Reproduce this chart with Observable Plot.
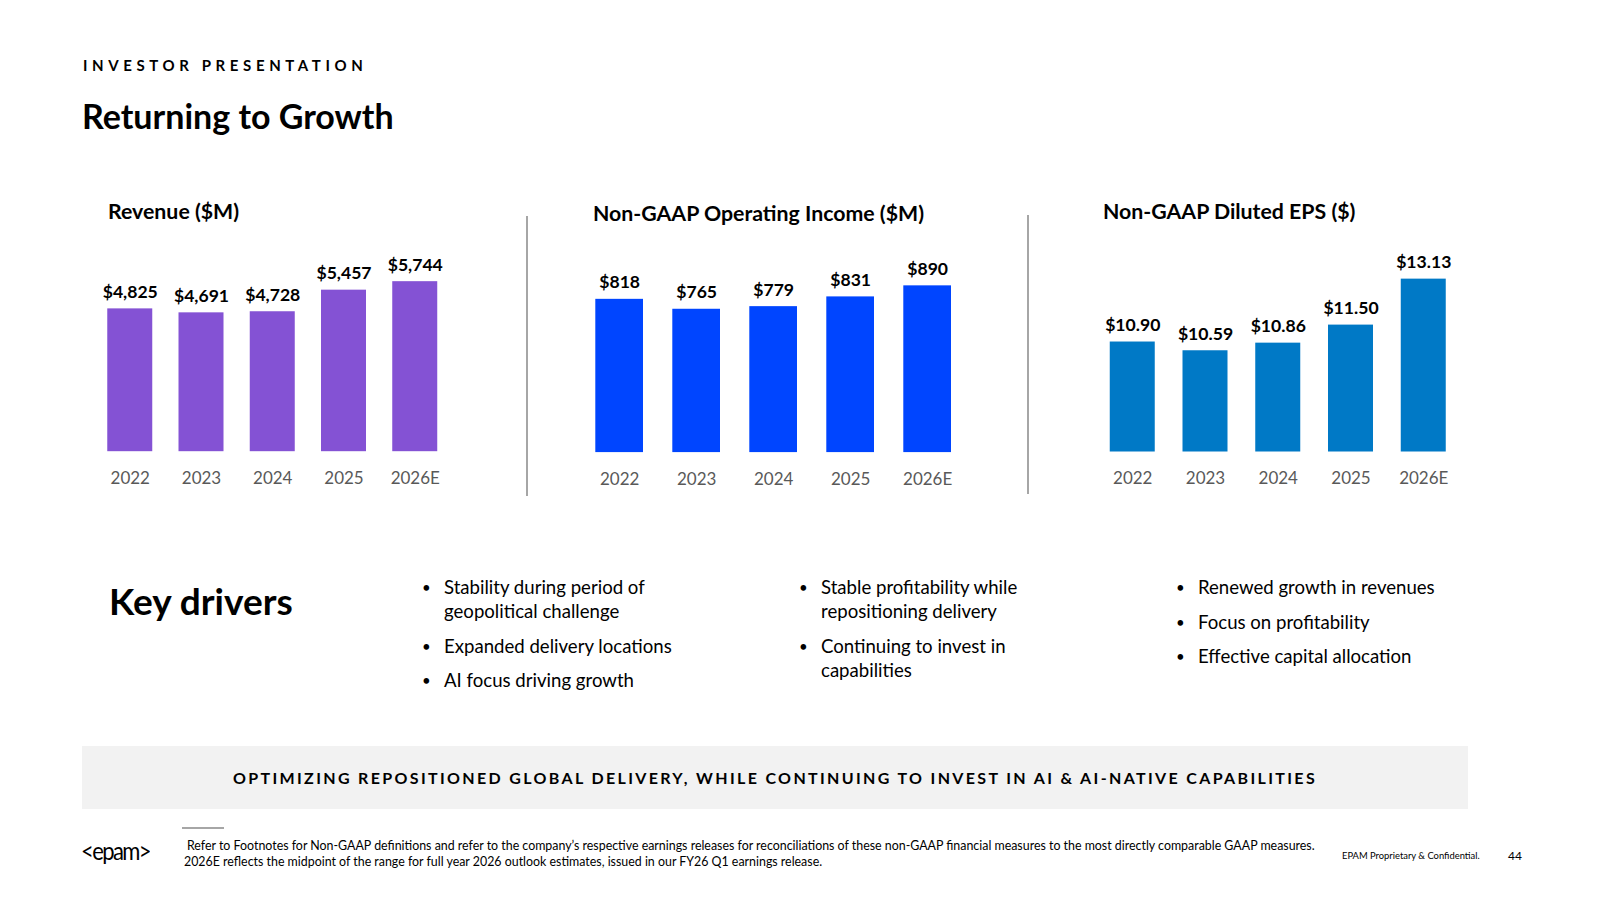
<!DOCTYPE html>
<html>
<head>
<meta charset="utf-8">
<script src="https://cdn.jsdelivr.net/npm/d3@7"></script>
<script src="https://cdn.jsdelivr.net/npm/@observablehq/plot@0.6"></script>
<style>
  html, body { margin: 0; padding: 0; background: #fff; }
  #page { position: relative; width: 1600px; height: 900px; overflow: hidden; font-family: Lato, "Open Sans", sans-serif; color: #000; }
  .abs { position: absolute; white-space: nowrap; line-height: 1; }
  .kicker { left: 83px; top: 57.7px; font-size: 15px; font-weight: 700; letter-spacing: 4.6px; }
  .title { left: 82px; top: 99px; font-size: 34px; font-weight: 700; }
  .ctitle { font-size: 21.3px; font-weight: 700; }
  .divider { position: absolute; width: 2px; background: #a6a6a6; }
  .key { left: 109px; top: 582px; font-size: 37px; font-weight: 700; }
  ul.bul { position: absolute; margin: 0; padding: 0; list-style: none; font-size: 18.6px; line-height: 24px; }
  ul.bul li { position: relative; padding-left: 20px; margin-bottom: 10.5px; white-space: nowrap; }
  ul.bul li::before { content: "\2022"; position: absolute; left: -2px; top: 0; font-size: 15px; }
  .banner { position: absolute; left: 82px; top: 746px; width: 1386px; height: 63px; background: #f2f2f2;
            display: flex; align-items: center; justify-content: center;
            font-size: 16px; font-weight: 700; letter-spacing: 2.35px; white-space: nowrap; }
  .rule { position: absolute; left: 182px; top: 827px; width: 42px; height: 1.5px; background: #a6a6a6; }
  .logo { left: 81px; top: 840px; font-size: 22px; letter-spacing: -1.6px; transform: scaleY(1.18); transform-origin: left center; }
  .foot { left: 184px; top: 838px; font-size: 12.4px; line-height: 16px; }
  .conf { left: 1342px; top: 851px; font-size: 9.4px; }
  .pnum { left: 1508px; top: 850px; font-size: 12px; }
</style>
</head>
<body>
<div id="page">
  <div class="abs kicker">INVESTOR PRESENTATION</div>
  <div class="abs title">Returning to Growth</div>

  <div class="abs ctitle" style="left:108px; top:201px;">Revenue ($M)</div>
  <div class="abs ctitle" style="left:593px; top:202.5px;">Non-GAAP Operating Income ($M)</div>
  <div class="abs ctitle" style="left:1103px; top:201px;">Non-GAAP Diluted EPS ($)</div>

  <div class="divider" style="left:526px; top:216px; height:280px;"></div>
  <div class="divider" style="left:1027px; top:215px; height:279px;"></div>

  <div class="abs key">Key drivers</div>
  <ul class="bul" style="left:424px; top:575px;">
    <li>Stability during period of<br>geopolitical challenge</li>
    <li>Expanded delivery locations</li>
    <li>AI focus driving growth</li>
  </ul>
  <ul class="bul" style="left:801px; top:575px;">
    <li>Stable profitability while<br>repositioning delivery</li>
    <li>Continuing to invest in<br>capabilities</li>
  </ul>
  <ul class="bul" style="left:1178px; top:575px;">
    <li>Renewed growth in revenues</li>
    <li>Focus on profitability</li>
    <li>Effective capital allocation</li>
  </ul>

  <div class="banner">OPTIMIZING REPOSITIONED GLOBAL DELIVERY, WHILE CONTINUING TO INVEST IN AI &amp; AI-NATIVE CAPABILITIES</div>

  <div class="rule"></div>
  <div class="abs logo">&lt;epam&gt;</div>
  <div class="abs foot"><span style="padding-left:3px">Refer to Footnotes for Non-GAAP definitions and refer to the company’s respective earnings releases for reconciliations of these non-GAAP financial measures to the most directly comparable GAAP measures.</span><br>2026E reflects the midpoint of the range for full year 2026 outlook estimates, issued in our FY26 Q1 earnings release.</div>
  <div class="abs conf">EPAM Proprietary &amp; Confidential.</div>
  <div class="abs pnum">44</div>
</div>

<script>
// Fiscal years shown on every panel
const years = ["2022", "2023", "2024", "2025", "2026E"];

// Revenue, $M
const revenue = [4825, 4691, 4728, 5457, 5744];

// Non-GAAP operating income, $M
const operatingIncome = [818, 765, 779, 831, 890];

// Non-GAAP diluted EPS, $
const dilutedEps = [10.90, 10.59, 10.86, 11.50, 13.13];

const page = document.getElementById("page");

// One labelled column chart, placed so that its plotting frame sits at
// the given bar positions on the page.
function barPanel({values, base, domain, color, barLeft, step, barW, bottom, plotHeight, format}) {
  const rows = years.map((year, i) => ({year, value: values[i]}));
  const n = years.length;
  const pad = 1 - barW / step;
  const rangeStart = barLeft - step * pad;
  const extent = step * (n + pad);
  const mL = 30, mR = 30, mT = 45, mB = 50;
  const chart = Plot.plot({
    width: extent + mL + mR,
    height: plotHeight + mT + mB,
    marginLeft: mL, marginRight: mR, marginTop: mT, marginBottom: mB,
    style: {fontFamily: "Lato", background: "transparent", overflow: "visible"},
    x: {domain: years, padding: pad, align: 0.5, round: false, axis: null},
    y: {domain, axis: null},
    marks: [
      Plot.barY(rows, {x: "year", y1: base, y2: "value", fill: color}),
      Plot.text(rows, {
        x: "year", y: "value", text: d => format(d.value),
        dy: -11, lineAnchor: "bottom", fontSize: 17.6, fontWeight: 700, fill: "#000"
      }),
      Plot.axisX({tickSize: 0, tickPadding: 20, fontSize: 17, color: "#595959", label: null})
    ]
  });
  chart.style.position = "absolute";
  chart.style.left = (rangeStart - mL) + "px";
  chart.style.top = (bottom - plotHeight - mT) + "px";
  page.appendChild(chart);
}

barPanel({
  values: revenue, base: 0, domain: [0, 7000], color: "#8452d4",
  barLeft: 107, step: 71.25, barW: 45, bottom: 451, plotHeight: 207.2,
  format: d3.format("$,")
});

barPanel({
  values: operatingIncome, base: 0, domain: [0, 1100], color: "#0045ff",
  barLeft: 595, step: 77, barW: 47.7, bottom: 451.7, plotHeight: 206.1,
  format: d3.format("$,")
});

barPanel({
  values: dilutedEps, base: 7, domain: [7, 14.5], color: "#0079c6",
  barLeft: 1110, step: 72.75, barW: 45, bottom: 451, plotHeight: 211.5,
  format: d3.format("$.2f")
});
</script>
</body>
</html>
